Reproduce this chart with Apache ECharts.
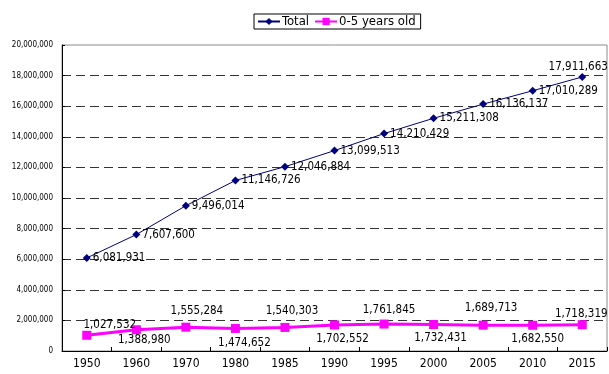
<!DOCTYPE html>
<html>
<head>
<meta charset="utf-8">
<script src="https://cdn.jsdelivr.net/npm/echarts@6/dist/echarts.min.js"></script>
<style>
  html, body { margin: 0; padding: 0; background: #fff; }
  #chart { width: 609px; height: 374px; }
</style>
</head>
<body>
<div id="chart"></div>
<script>
// Census years and population counts
const years = ['1950', '1960', '1970', '1980', '1985', '1990', '1995', '2000', '2005', '2010', '2015'];
const totalPop = [6081931, 7607600, 9496014, 11146726, 12046884, 13099513, 14210429, 15211308, 16136137, 17010289, 17911663];
const under6Pop = [1027532, 1388980, 1555284, 1474652, 1540303, 1702552, 1761845, 1732431, 1689713, 1682550, 1718319];

// Value axis range
const yMin = 0;
const yMax = 20000000;
const yStep = 2000000;

// Label nudges (pixels from the marker centre) for the 0-5 series, alternating above/below
const kidLabelNudge = [[23, -10], [8, 10], [11, -16], [9, 15], [7, -16], [8, 14], [5, -14], [7, 14], [8, -17], [5, 14], [-1, -11]];

const FONT = '"DejaVu Sans Condensed", "Liberation Sans Narrow", "Arial Narrow", sans-serif';
const fmt = v => Number(v).toLocaleString('en-US');

const chart = echarts.init(document.getElementById('chart'), null, { renderer: 'canvas' });

const totalData = totalPop.map((v, i) => {
  if (i === totalPop.length - 1) {
    return { value: v, label: { position: 'inside', offset: [-4, -10] } };
  }
  return v;
});

const kidData = under6Pop.map((v, i) => ({
  value: v,
  label: { position: 'inside', offset: kidLabelNudge[i] }
}));

chart.setOption({
  animation: false,
  backgroundColor: '#fff',
  textStyle: { fontFamily: FONT, color: '#000' },
  legend: {
    left: 254,
    top: 14,
    padding: [1, 5, 1, 3],
    itemGap: 5,
    itemWidth: 22,
    itemHeight: 9,
    borderColor: '#000',
    borderWidth: 1,
    borderRadius: 0,
    backgroundColor: '#fff',
    textStyle: { fontFamily: FONT, fontSize: 13, color: '#000', padding: [0, 0, 0, -3] },
    data: ['Total', '0-5 years old']
  },
  grid: {
    left: 62,
    right: 2,
    top: 45,
    bottom: 23,
    show: true,
    borderColor: '#8c8c8c',
    borderWidth: 1,
    containLabel: false
  },
  xAxis: {
    type: 'category',
    data: years,
    boundaryGap: true,
    axisLine: { show: true, lineStyle: { color: '#000', width: 1 } },
    axisTick: { show: true, inside: true, length: 4, lineStyle: { color: '#000' } },
    axisLabel: { fontFamily: FONT, fontSize: 12, color: '#000', margin: 7 },
    splitLine: { show: false }
  },
  yAxis: {
    type: 'value',
    min: yMin,
    max: yMax,
    interval: yStep,
    axisLine: { show: true, lineStyle: { color: '#000', width: 1 } },
    axisTick: { show: true, inside: true, length: 3, lineStyle: { color: '#000' } },
    axisLabel: { fontFamily: FONT, fontSize: 8, color: '#000', margin: 9, formatter: v => fmt(v) },
    splitLine: {
      show: true,
      showMinLine: false,
      showMaxLine: false,
      lineStyle: { color: '#333', width: 1, type: [9, 5] }
    }
  },
  series: [
    {
      name: 'Total',
      type: 'line',
      data: totalData,
      symbol: 'diamond',
      symbolSize: 8,
      itemStyle: { color: '#000080' },
      lineStyle: { color: '#000080', width: 1 },
      label: {
        show: true,
        position: 'right',
        distance: 2,
        fontFamily: FONT,
        fontSize: 11.5,
        color: '#000',
        formatter: p => fmt(p.value)
      },
      z: 3
    },
    {
      name: '0-5 years old',
      type: 'line',
      data: kidData,
      symbol: 'rect',
      symbolSize: 9,
      itemStyle: { color: '#ff00ff' },
      lineStyle: { color: '#ff00ff', width: 3 },
      label: {
        show: true,
        fontFamily: FONT,
        fontSize: 11.5,
        color: '#000',
        formatter: p => fmt(p.value)
      },
      z: 3
    }
  ]
});
</script>
</body>
</html>
